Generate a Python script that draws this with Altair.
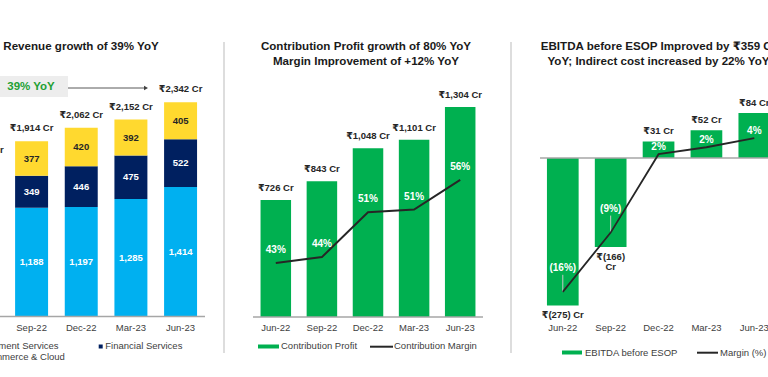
import altair as alt
import pandas as pd

# ---------------- data ----------------
months = ["Jun-22", "Sep-22", "Dec-22", "Mar-23", "Jun-23"]

segments = ["Payment Services", "Financial Services", "Commerce & Cloud"]
payment_services = [1014, 1188, 1197, 1285, 1414]
financial_services = [275, 349, 446, 475, 522]
commerce_cloud = [391, 377, 420, 392, 405]
revenue_totals = [1680, 1914, 2062, 2152, 2342]
revenue_total_labels = ["₹1,680 Cr", "₹1,914 Cr", "₹2,062 Cr", "₹2,152 Cr", "₹2,342 Cr"]

contribution_profit = [726, 843, 1048, 1101, 1304]
contribution_labels = ["₹726 Cr", "₹843 Cr", "₹1,048 Cr", "₹1,101 Cr", "₹1,304 Cr"]
contribution_margin = [43.1, 44.0, 50.8, 51.2, 55.7]
contribution_margin_labels = ["43%", "44%", "51%", "51%", "56%"]

ebitda = [-275, -166, 31, 52, 84]
ebitda_labels = ["₹(275) Cr", "₹(166)\nCr", "₹31 Cr", "₹52 Cr", "₹84 Cr"]
ebitda_margin = [-16.4, -8.7, 1.5, 2.4, 3.6]
ebitda_margin_labels = ["(16%)", "(9%)", "2%", "2%", "4%"]

rev_title = "Revenue growth of 39% YoY"
yoy_badge = "39% YoY"
cp_title = ["Contribution Profit growth of 80% YoY", "Margin Improvement of +12% YoY"]
eb_title = ["EBITDA before ESOP Improved by ₹359 Cr", "YoY; Indirect cost increased by 22% YoY"]
cp_legend = ["Contribution Profit", "Contribution Margin"]
eb_legend = ["EBITDA before ESOP", "Margin (%)"]

# ---------------- style ----------------
FONT = "Liberation Sans, Arial, DejaVu Sans, sans-serif"
GREEN = "#00B050"
LBLUE = "#00B0F0"
NAVY = "#002060"
YELLOW = "#FFD92F"
DARK = "#262626"
GREY_TXT = "#404040"
AXIS_GREY = "#A6A6A6"


def vtext(txt, x, y, **kw):
    opts = dict(font=FONT, baseline="middle")
    opts.update(kw)
    return alt.Chart(pd.DataFrame({"t": [txt]})).mark_text(**opts).encode(
        x=alt.value(x), y=alt.value(y), text="t:N"
    )


def vrule(x, x2, y, y2, color, width):
    return alt.Chart(pd.DataFrame({"k": [0]})).mark_rule(color=color, strokeWidth=width).encode(
        x=alt.value(x), x2=alt.value(x2), y=alt.value(y), y2=alt.value(y2)
    )


def vrect(x, x2, y, y2, color):
    return alt.Chart(pd.DataFrame({"k": [0]})).mark_rect(color=color).encode(
        x=alt.value(x), x2=alt.value(x2), y=alt.value(y), y2=alt.value(y2)
    )


def vpoint(x, y, shape, color, size):
    return alt.Chart(pd.DataFrame({"k": [0]})).mark_point(
        shape=shape, filled=True, color=color, size=size, opacity=1
    ).encode(x=alt.value(x), y=alt.value(y))


def band(rng, pi):
    return alt.Scale(domain=months, range=rng, paddingInner=pi, paddingOuter=pi / 2)


CAT_Y = 327.5

# ---------------- panel 1 : revenue ----------------
rev_rows = []
for i, m in enumerate(months):
    for o, (seg, vals) in enumerate(zip(segments, [payment_services, financial_services, commerce_cloud])):
        rev_rows.append({"month": m, "segment": seg, "value": vals[i], "order": o, "label": f"{vals[i]:,}"})
rev_df = pd.DataFrame(rev_rows)
rev_tot_df = pd.DataFrame({"month": months, "total": revenue_totals, "label": revenue_total_labels})

x1 = alt.X("month:N", sort=months, scale=band([-42.9, 205.4], 0.336), axis=None)
y1_scale = alt.Scale(domain=[0, 2500], range=[316.5, 87.75], nice=False, zero=False)

p1_bars = alt.Chart(rev_df).mark_bar().encode(
    x=x1,
    y=alt.Y("value:Q", stack="zero", scale=y1_scale, axis=None),
    color=alt.Color("segment:N", scale=alt.Scale(domain=segments, range=[LBLUE, NAVY, YELLOW]), legend=None),
    order=alt.Order("order:Q"),
)
p1_seg_labels = (
    alt.Chart(rev_df)
    .transform_stack(stack="value", groupby=["month"], as_=["v0", "v1"], sort=[alt.SortField("order", order="ascending")])
    .transform_calculate(mid="(datum.v0 + datum.v1) / 2")
    .transform_filter("datum.month != 'Jun-22'")  # that column lies outside the cropped view
    .mark_text(font=FONT, fontWeight="bold", fontSize=9.5, baseline="middle")
    .encode(
        x=x1,
        y=alt.Y("mid:Q", scale=y1_scale, axis=None),
        text="label:N",
        color=alt.condition(alt.datum.segment == "Commerce & Cloud", alt.value(DARK), alt.value("white")),
    )
)
p1_totals = alt.Chart(rev_tot_df).mark_text(
    font=FONT, fontWeight="bold", fontSize=9.5, baseline="middle", dy=-13, color=DARK
).encode(x=x1, y=alt.Y("total:Q", scale=y1_scale, axis=None), text="label:N")
p1_cats = alt.Chart(rev_tot_df).transform_filter("datum.month != 'Jun-22'").mark_text(
    font=FONT, fontSize=9.5, color=GREY_TXT, baseline="middle"
).encode(x=x1, y=alt.value(CAT_Y), text="month:N")
p1_base = alt.Chart(pd.DataFrame({"z": [0]})).mark_rule(color=AXIS_GREY, strokeWidth=1.5).encode(
    x=alt.value(-40), x2=alt.value(205), y=alt.Y("z:Q", scale=y1_scale, axis=None)
)
p1 = alt.layer(p1_bars, p1_seg_labels, p1_totals, p1_cats, p1_base)

# ---------------- panel 2 : contribution ----------------
cp_df = pd.DataFrame({
    "month": months, "cp": contribution_profit, "cp_label": contribution_labels,
    "margin": contribution_margin, "margin_label": contribution_margin_labels,
})
x2 = alt.X("month:N", sort=months, scale=band([252.75, 483.25], 0.338), axis=None)
y2_scale = alt.Scale(domain=[0, 1500], range=[317, 317 - 1500 * 0.161], nice=False, zero=False)
m2_scale = alt.Scale(domain=[30, 60], range=[349.5, 151.5], nice=False, zero=False)

p2_bars = alt.Chart(cp_df).mark_bar(color=GREEN).encode(x=x2, y=alt.Y("cp:Q", scale=y2_scale, axis=None))
p2_vals = alt.Chart(cp_df).mark_text(font=FONT, fontWeight="bold", fontSize=9.5, baseline="middle", dy=-12, color=DARK).encode(
    x=x2, y=alt.Y("cp:Q", scale=y2_scale, axis=None), text="cp_label:N"
)
p2_cats = alt.Chart(cp_df).mark_text(font=FONT, fontSize=9.5, color=GREY_TXT, baseline="middle").encode(
    x=x2, y=alt.value(CAT_Y), text="month:N"
)
p2_base = alt.Chart(pd.DataFrame({"z": [0]})).mark_rule(color=AXIS_GREY, strokeWidth=1.5).encode(
    x=alt.value(253), x2=alt.value(483), y=alt.Y("z:Q", scale=y2_scale, axis=None)
)
p2_line = alt.Chart(cp_df).mark_line(color=DARK, strokeWidth=2).encode(
    x=x2, y=alt.Y("margin:Q", scale=m2_scale, axis=None)
)
p2_pct = alt.Chart(cp_df).mark_text(font=FONT, fontWeight="bold", fontSize=10, baseline="middle", dy=-13, color="white").encode(
    x=x2, y=alt.Y("margin:Q", scale=m2_scale, axis=None), text="margin_label:N"
)
p2 = alt.layer(
    alt.layer(p2_bars, p2_vals, p2_cats, p2_base),
    alt.layer(p2_line, p2_pct),
).resolve_scale(y="independent")

# ---------------- panel 3 : EBITDA ----------------
eb_df = pd.DataFrame({
    "month": months, "eb": ebitda, "eb_label": ebitda_labels,
    "margin": ebitda_margin, "margin_label": ebitda_margin_labels,
})
x3 = alt.X("month:N", sort=months, scale=band([538.85, 778.25], 0.338), axis=None)
y3_scale = alt.Scale(domain=[-300, 100], range=[158 + 300 * 0.536, 158 - 100 * 0.536], nice=False, zero=False)
m3_scale = alt.Scale(domain=[-20, 5], range=[165.7 + 20 * 7.69, 165.7 - 5 * 7.69], nice=False, zero=False)

p3_bars = alt.Chart(eb_df).mark_bar(color=GREEN).encode(
    x=x3, y=alt.Y("eb:Q", scale=y3_scale, axis=None), y2=alt.datum(0)
)
p3_vals_pos = alt.Chart(eb_df).transform_filter("datum.eb >= 0").mark_text(
    font=FONT, fontWeight="bold", fontSize=9.5, baseline="bottom", dy=-5, color=DARK
).encode(x=x3, y=alt.Y("eb:Q", scale=y3_scale, axis=None), text="eb_label:N")
p3_vals_neg = alt.Chart(eb_df).transform_filter("datum.eb < 0").mark_text(
    font=FONT, fontWeight="bold", fontSize=9.5, baseline="top", dy=5, color=DARK, lineBreak="\n", lineHeight=10.5
).encode(x=x3, y=alt.Y("eb:Q", scale=y3_scale, axis=None), text="eb_label:N")
p3_cats = alt.Chart(eb_df).mark_text(font=FONT, fontSize=9.5, color=GREY_TXT, baseline="middle").encode(
    x=x3, y=alt.value(CAT_Y + 0.5), text="month:N"
)
p3_zero = alt.Chart(pd.DataFrame({"z": [0]})).mark_rule(color=AXIS_GREY, strokeWidth=1.5).encode(
    x=alt.value(540), x2=alt.value(770), y=alt.Y("z:Q", scale=y3_scale, axis=None)
)
p3_line = alt.Chart(eb_df).mark_line(color=DARK, strokeWidth=1.8).encode(
    x=x3, y=alt.Y("margin:Q", scale=m3_scale, axis=None)
)
p3_leader = alt.Chart(eb_df).transform_filter("datum.margin < 0").mark_rule(
    color="#C8C8C8", strokeWidth=1, y2Offset=-17
).encode(x=x3, y=alt.Y("margin:Q", scale=m3_scale, axis=None), y2=alt.Y2("margin:Q"))
p3_pct_pos = alt.Chart(eb_df).transform_filter("datum.margin >= 0").mark_text(
    font=FONT, fontWeight="bold", fontSize=10, baseline="middle", dy=-7, color="white"
).encode(x=x3, y=alt.Y("margin:Q", scale=m3_scale, axis=None), text="margin_label:N")
p3_pct_neg = alt.Chart(eb_df).transform_filter("datum.margin < 0").mark_text(
    font=FONT, fontWeight="bold", fontSize=10, baseline="middle", dy=-24, color="white"
).encode(x=x3, y=alt.Y("margin:Q", scale=m3_scale, axis=None), text="margin_label:N")
p3 = alt.layer(
    alt.layer(p3_bars, p3_vals_pos, p3_vals_neg, p3_cats, p3_zero),
    alt.layer(p3_leader, p3_line, p3_pct_pos, p3_pct_neg),
).resolve_scale(y="independent")

# ---------------- titles, separators, legends, annotations ----------------
TITLE = dict(fontWeight="bold", fontSize=11.6, color="#1A1A1A", align="center")
deco = alt.layer(
    # separators
    vrule(224, 224, 42, 353, "#DDDDDD", 2),
    vrule(511, 511, 42, 353, "#DDDDDD", 2),
    # titles
    vtext(rev_title, 81, 47, **TITLE),
    vtext(cp_title[0], 366, 47, **TITLE),
    vtext(cp_title[1], 366, 62, **TITLE),
    vtext(eb_title[0], 658.5, 47, **TITLE),
    vtext(eb_title[1], 658.5, 62, **TITLE),
    # YoY badge and arrow
    vrect(-40, 68, 76, 97, "#EDEDED"),
    vtext(yoy_badge, 31, 87, fontWeight="bold", fontSize=11.5, color="#22A033", align="center"),
    vrule(68, 144, 88, 88, "#595959", 1),
    vpoint(146, 88, "triangle-right", "#404040", 22),
    # legend panel 1
    vpoint(-24, 345.5, "square", LBLUE, 16),
    vtext(segments[0], -18, 345.5, fontSize=9.5, color=GREY_TXT, align="left"),
    vpoint(100.7, 346.5, "square", NAVY, 16),
    vtext(segments[1], 105.3, 345.5, fontSize=9.5, color=GREY_TXT, align="left"),
    vpoint(-24, 357.3, "square", YELLOW, 16),
    vtext(segments[2], -18, 357.3, fontSize=9.5, color=GREY_TXT, align="left"),
    # legend panel 2
    vrect(258, 279, 344.5, 348.5, GREEN),
    vtext(cp_legend[0], 281, 346, fontSize=9.5, color=GREY_TXT, align="left"),
    vrule(370, 393, 346.7, 346.7, DARK, 2),
    vtext(cp_legend[1], 394, 346, fontSize=9.5, color=GREY_TXT, align="left"),
    # legend panel 3
    vrect(562, 582, 350.5, 354.5, GREEN),
    vtext(eb_legend[0], 585, 352.5, fontSize=9.5, color=GREY_TXT, align="left"),
    vrule(697, 718, 352.7, 352.7, DARK, 2),
    vtext(eb_legend[1], 720, 352.5, fontSize=9.5, color=GREY_TXT, align="left"),
)

chart = (
    alt.layer(p1, p2, p3, deco)
    .resolve_scale(x="independent", y="independent")
    .properties(width=768, height=377, autosize=alt.AutoSizeParams(type="none"), padding=0, background="white")
    .configure_view(stroke=None)
)

chart.save("out.html", embed_options={"renderer": "svg", "actions": False})
